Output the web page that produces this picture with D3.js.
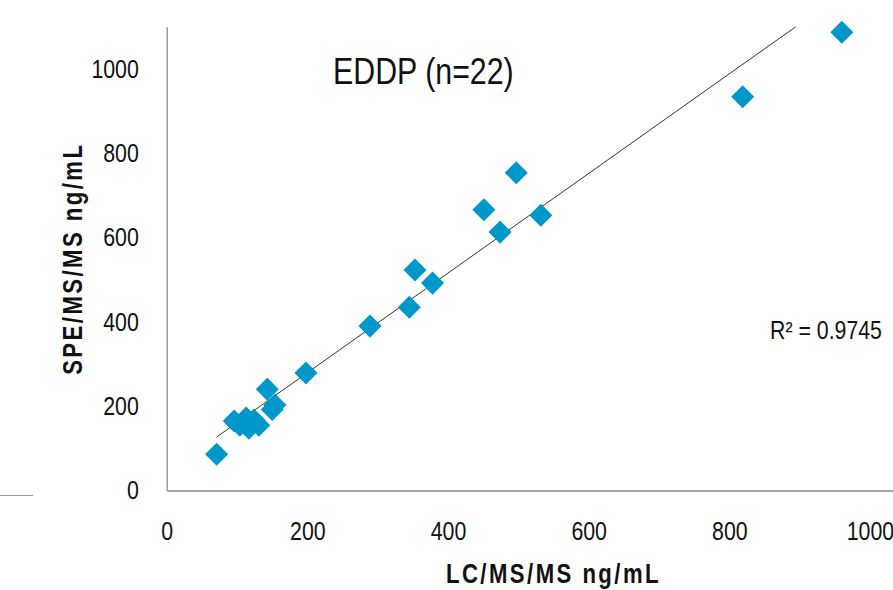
<html>
  <head>
    <title>EDDP (n=22)</title>
    <script src="https://d3js.org/d3.v7.min.js"></script>
    <style>
      body { margin: 0; background: #fff; }
      text { font-family: "Liberation Sans", Arial, sans-serif; fill: #111; }
    </style>
  </head>
  <body>
    <svg id="chart" width="893" height="590"></svg>
    <script>
      // LC/MS/MS (x) vs SPE/MS/MS (y), ng/mL
      var lcms = [71, 96, 104, 113, 117, 110, 124, 131, 143, 150, 154, 198, 289, 345, 353, 378, 451, 474, 497, 532, 819, 960];
      var spems = [86, 165, 155, 172, 148, 160, 167, 155, 240, 192, 203, 279, 390, 435, 523, 492, 666, 613, 754, 653, 934, 1087];
      var xTicks = [0, 200, 400, 600, 800, 1000];
      var yTicks = [0, 200, 400, 600, 800, 1000];
      var trendSlope = 1.182;
      var trendIntercept = 43;
      var rSquared = "0.9745";

      var svg = d3.select("#chart");
      var squeeze = 0.82;   // narrow look, like a condensed face

      var x = d3.scaleLinear().domain([0, 1100]).range([166.7, 940.3]);
      var y = d3.scaleLinear().domain([0, 1100]).range([490.5, 26.85]);

      // stray line left over on the left edge
      svg.append("line")
        .attr("x1", 0).attr("x2", 33)
        .attr("y1", 495.5).attr("y2", 495.5)
        .attr("stroke", "#9a9a9a")
        .attr("stroke-width", 1);

      // axes
      svg.append("g")
        .attr("transform", "translate(0,490.5)")
        .call(d3.axisBottom(x).tickValues(xTicks).tickFormat(d3.format("d")).tickSize(0).tickPadding(31))
        .call(function(g) {
          g.select(".domain").attr("stroke", "#8a8a8a").attr("stroke-width", 1.3);
          g.selectAll("text").attr("font-size", "26px").attr("fill", "#111")
            .attr("transform", "scale(" + squeeze + ",1)");
        });

      svg.append("g")
        .attr("transform", "translate(166.7,0)")
        .call(d3.axisLeft(y).tickValues(yTicks).tickFormat(d3.format("d")).tickSize(0).tickPadding(34))
        .call(function(g) {
          g.select(".domain").attr("stroke", "#8a8a8a").attr("stroke-width", 1.3);
          g.selectAll("text").attr("font-size", "26px").attr("fill", "#111")
            .attr("transform", "scale(" + squeeze + ",1)");
        });

      // axis titles
      svg.append("text")
        .attr("transform", "translate(553.5,583) scale(" + squeeze + ",1)")
        .attr("text-anchor", "middle")
        .attr("font-size", "27px")
        .attr("font-weight", "bold")
        .attr("letter-spacing", "3px")
        .text("LC/MS/MS ng/mL");

      svg.append("text")
        .attr("transform", "translate(82,258.7) rotate(-90) scale(" + squeeze + ",1)")
        .attr("text-anchor", "middle")
        .attr("font-size", "27px")
        .attr("font-weight", "bold")
        .attr("letter-spacing", "3px")
        .text("SPE/MS/MS ng/mL");

      // trendline, clipped to plot area
      svg.append("clipPath").attr("id", "plot")
        .append("rect")
        .attr("x", x(0)).attr("y", y(1100))
        .attr("width", x(1100) - x(0)).attr("height", y(0) - y(1100));

      var x0 = d3.min(lcms), x1 = d3.max(lcms);
      svg.append("line")
        .attr("clip-path", "url(#plot)")
        .attr("x1", x(x0)).attr("y1", y(trendSlope * x0 + trendIntercept))
        .attr("x2", x(x1)).attr("y2", y(trendSlope * x1 + trendIntercept))
        .attr("stroke", "#333")
        .attr("stroke-width", 1);

      // points
      var symbol = d3.symbol().type(d3.symbolSquare).size(265);
      svg.append("g")
        .selectAll("path")
        .data(lcms)
        .enter()
        .append("path")
          .attr("d", symbol)
          .attr("transform", function(d, i) { return "translate(" + x(d) + "," + y(spems[i]) + ") rotate(45)"; })
          .attr("fill", "#0097cb");

      // title and R²
      svg.append("text")
        .attr("transform", "translate(333,83.5) scale(" + squeeze + ",1)")
        .attr("font-size", "37px")
        .text("EDDP (n=22)");

      svg.append("text")
        .attr("transform", "translate(770,339) scale(" + squeeze + ",1)")
        .attr("font-size", "26px")
        .text("R\u00b2 = " + rSquared);
    </script>
  </body>
</html>
